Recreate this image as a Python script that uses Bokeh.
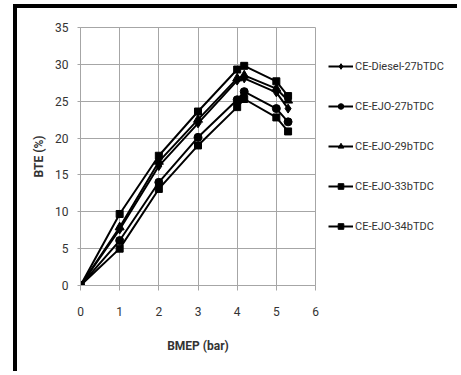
from bokeh.plotting import figure
from bokeh.layouts import row
from bokeh.models import Range1d, Legend, LegendItem, SingleIntervalTicker
from bokeh.embed import file_html
from bokeh.resources import INLINE

bmep = [0, 1, 2, 3, 4, 4.18, 5, 5.3]
diesel27 = [0, 7.6, 16.2, 22.0, 27.8, 28.1, 26.2, 24.0]
ejo27 = [0, 6.1, 14.0, 20.1, 25.2, 26.3, 24.0, 22.2]
ejo29 = [0, 7.9, 16.8, 22.5, 28.1, 28.5, 26.7, 25.1]
ejo33 = [0, 5.0, 13.1, 19.0, 24.2, 25.3, 22.8, 20.9]
ejo34 = [0, 9.7, 17.6, 23.6, 29.3, 29.8, 27.7, 25.7]

series_names = ["CE-Diesel-27bTDC", "CE-EJO-27bTDC", "CE-EJO-29bTDC", "CE-EJO-33bTDC", "CE-EJO-34bTDC"]
series_vals = [diesel27, ejo27, ejo29, ejo33, ejo34]
markers = ["diamond", "circle", "triangle", "square", "square"]
msizes = [9, 8, 9, 7, 7]

FONT = "Roboto"
TXT = "#333333"

# main chart (left/top black frame via CSS)
p = figure(width=308, height=367, output_backend="svg", toolbar_location=None,
           x_range=Range1d(0, 6), y_range=Range1d(0, 35),
           min_border_left=63, min_border_right=10, min_border_top=19,
           min_border_bottom=90)
p.styles = {"margin-left": "13px", "margin-top": "4px",
            "border-left": "4px solid black", "border-top": "4px solid black"}
p.background_fill_color = "white"
p.border_fill_color = "white"
p.outline_line_color = "#a6a6a6"
p.outline_line_width = 1

p.xaxis.ticker = SingleIntervalTicker(interval=1)
p.yaxis.ticker = SingleIntervalTicker(interval=5)
p.xaxis.minor_tick_line_color = None
p.yaxis.minor_tick_line_color = None
for ax in (p.xaxis, p.yaxis):
    ax.axis_line_color = "#a6a6a6"
    ax.major_tick_line_color = "#a6a6a6"
    ax.major_tick_in = 0
    ax.major_label_text_font = FONT
    ax.major_label_text_font_size = "12px"
    ax.major_label_text_color = TXT
    ax.axis_label_text_font = FONT
    ax.axis_label_text_font_size = "12px"
    ax.axis_label_text_font_style = "bold"
    ax.axis_label_text_color = TXT
p.xaxis.major_tick_out = 5
p.yaxis.major_tick_out = 3
p.xaxis.major_label_standoff = 16
p.yaxis.major_label_standoff = 8
p.xaxis.axis_label = "BMEP (bar)"
p.yaxis.axis_label = "BTE (%)"
p.xaxis.axis_label_standoff = 20
p.yaxis.axis_label_standoff = 6

p.xgrid.grid_line_color = "#a6a6a6"
p.ygrid.grid_line_color = "#a6a6a6"

for vals, mk, ms in zip(series_vals, markers, msizes):
    p.line(bmep, vals, line_color="black", line_width=2)
    p.scatter(bmep, vals, marker=mk, size=ms, fill_color="black", line_color="black")

# legend panel on the right (its own renderers lie outside its visible range)
lg = figure(width=136, height=367, output_backend="svg", toolbar_location=None,
            x_axis_type=None, y_axis_type=None, min_border=0,
            x_range=Range1d(100, 101), y_range=Range1d(100, 101))
lg.styles = {"margin-top": "4px", "border-top": "4px solid black"}
lg.outline_line_color = None
lg.grid.visible = False
lg.background_fill_color = "white"
lg.border_fill_color = "white"

items = []
for name, vals, mk, ms in zip(series_names, series_vals, markers, msizes):
    r1 = lg.line(bmep, vals, line_color="black", line_width=2)
    r2 = lg.scatter(bmep, vals, marker=mk, size=ms, fill_color="black", line_color="black")
    items.append(LegendItem(label=name, renderers=[r1, r2]))

legend = Legend(items=items, location=(7, 52), padding=0, margin=0,
                glyph_width=25, glyph_height=14, label_height=14, spacing=26,
                label_standoff=2, label_text_font=FONT, label_text_font_size="11px",
                label_text_color=TXT, border_line_color=None, background_fill_alpha=0)
lg.add_layout(legend, "center")

layout = row(p, lg, spacing=0)
open("out.html", "w").write(file_html(layout, INLINE))
